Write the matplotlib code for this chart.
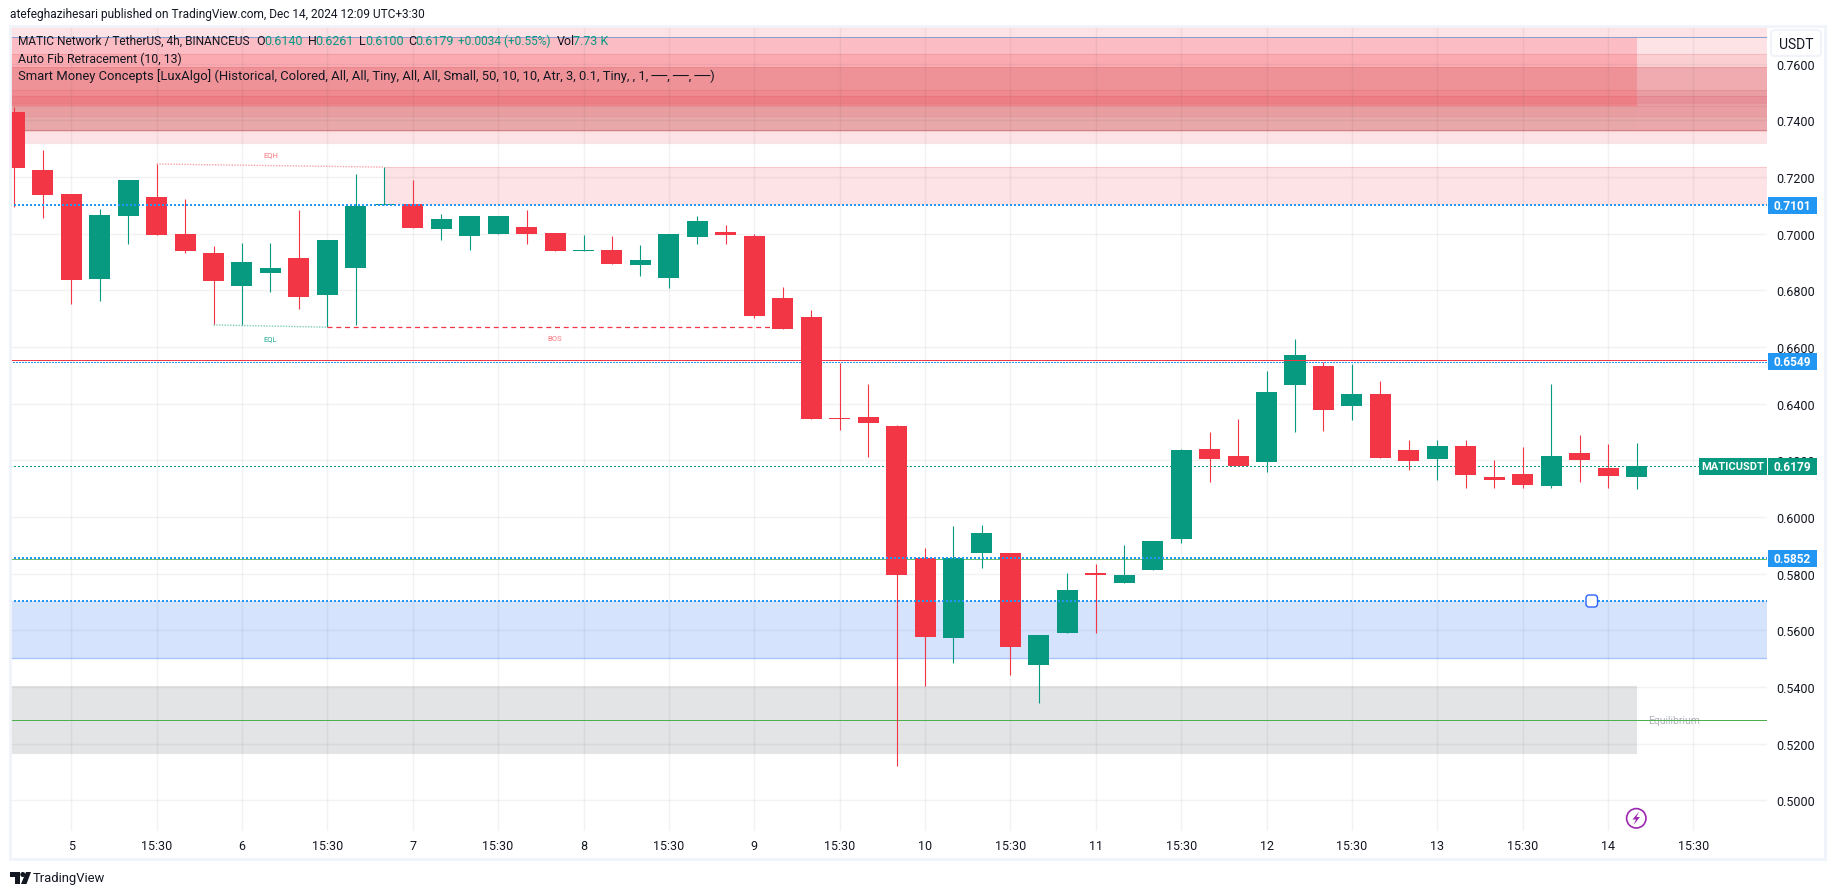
import matplotlib
matplotlib.use("Agg")
import matplotlib.pyplot as plt
from matplotlib.patches import Rectangle, FancyBboxPatch, Circle, Polygon

plt.rcParams['font.family'] = ['Roboto', 'DejaVu Sans']

# candles
opens = [.7430, .7224, .7140, .6841, .7064, .7130, .6999, .6932, .6817, .6862,
         .6914, .6785, .6880, .7102, .7105, .7018, .6993, .7000, .7024, .7002,
         .6940, .6942, .6890, .6845, .6990, .7006, .6992, .6773, .6706, .6349,
         .6353, .6321, .5855, .5573, .5873, .5873, .5478, .5591, .5802, .5767,
         .5813, .5922, .6240, .6215, .6194, .6466, .6533, .6392, .6434, .6237,
         .6205, .6251, .6141, .6152, .6109, .6226, .6173, .6140]
closes = [.7233, .7138, .6838, .7066, .7190, .6997, .6940, .6834, .6900, .6879,
          .6778, .6978, .7098, .7105, .7021, .7052, .7062, .7062, .7000, .6940,
          .6942, .6893, .6907, .6999, .7045, .6995, .6711, .6665, .6346, .6347,
          .6332, .5795, .5576, .5855, .5944, .5541, .5583, .5742, .5795, .5795,
          .5915, .6237, .6205, .6180, .6441, .6572, .6379, .6434, .6208, .6198,
          .6251, .6148, .6131, .6113, .6215, .6201, .6145, .6179]
highs = [.7448, .7295, .7140, .7087, .7190, .7246, .7123, .6957, .6967, .6967,
         .7084, .6978, .7211, .7235, .7190, .7070, .7062, .7062, .7084, .7002,
         .6995, .6992, .6960, .6999, .7062, .7031, .6999, .6812, .6731, .6544,
         .6469, .6325, .5891, .5968, .5972, .5873, .5583, .5802, .5834, .5901,
         .5915, .6240, .6300, .6346, .6515, .6628, .6547, .6540, .6480, .6272,
         .6272, .6272, .6201, .6247, .6469, .6289, .6258, .6261]
lows = [.7093, .7057, .6753, .6764, .6964, .6997, .6932, .6678, .6678, .6795,
        .6735, .6670, .6678, .7102, .7021, .6979, .6944, .7000, .6964, .6940,
        .6940, .6893, .6852, .6810, .6964, .6964, .6704, .6665, .6346, .6307,
        .6212, .5121, .5403, .5485, .5820, .5442, .5343, .5591, .5591, .5767,
        .5813, .5908, .6124, .6180, .6159, .6300, .6304, .6342, .6208, .6166,
        .6131, .6102, .6102, .6102, .6102, .6124, .6102, .6100]

y_ticks = [.50, .52, .54, .56, .58, .60, .62, .64, .66, .68, .70, .72, .74, .76]
x_ticks = [2, 5, 8, 11, 14, 17, 20, 23, 26, 29, 32, 35, 38, 41, 44, 47, 50, 53, 56, 59]
x_labels = ['5', '15:30', '6', '15:30', '7', '15:30', '8', '15:30', '9', '15:30',
            '10', '15:30', '11', '15:30', '12', '15:30', '13', '15:30', '14', '15:30']

# stacked supply zones at the top, edges from high to low
band_edges = [.7733, .7693, .7634, .7587, .7506, .7485, .7463, .7452, .7417, .7367, .7362, .7321]
band_left = ['#fde3e5', '#fbbcc4', '#fbaab0', '#ef9297', '#ee8a90', '#ee7e86',
             '#ee848a', '#e89ea1', '#e8a8aa', '#d98a90', '#fde3e5']
band_right = ['#fde3e5', '#fde3e5', '#fbcfd2', '#efabb0', '#e89ea3', '#e8909a',
              '#e89ea3', '#e89ea3', '#eaa8ac', '#d98a90', '#fde3e5']

last_bar = 57
price = 0.6179
ob_top, ob_bottom = .7234, .7101
blue_top, blue_bottom = .5703, .5503
grey_top, grey_bottom = .5403, .5163
fib_top = .7693
fib_red = .6553
fib_red_dots = .65475
fib_green = .5850
equilibrium = .5282
blue_levels = [.7101, .5854, .5703]
eqh = ([5, 13], [.7246, .7235])
eql = ([7, 11], [.6678, .6670])
bos = ([11, 27], [.6670, .6670])

RED = '#f23645'
GREEN = '#089981'
BLUE = '#2196f3'
TEXT = '#131722'

fig = plt.figure(figsize=(18.35, 8.95), dpi=100, facecolor='white')
ax = fig.add_axes([10 / 1835, 1 - 832 / 895, 1757 / 1835, 805 / 895])
ax.set_xlim((10 - 14.3) / 28.46, (1767 - 14.3) / 28.46)
ax.set_ylim(0.5 + (801.3 - 832) / 2833, 0.5 + (801.3 - 27) / 2833)

for s in ax.spines.values():
    s.set_visible(False)
ax.set_axisbelow('line')
ax.grid(True, color='#2a2e39', alpha=0.06, lw=1.0)
ax.set_yticks(y_ticks, [f'{v:.4f}' for v in y_ticks])
ax.set_xticks(x_ticks, x_labels)
ax.yaxis.tick_right()
ax.tick_params(axis='both', length=0, labelsize=9, labelcolor=TEXT)
ax.tick_params(axis='y', pad=6.5)
ax.tick_params(axis='x', pad=6)

x0, x1 = ax.get_xlim()

# zones
for i in range(len(band_left)):
    lo, hi = band_edges[i + 1], band_edges[i]
    ax.fill_between([x0, last_bar], lo, hi, color=band_left[i], lw=0, zorder=1)
    ax.fill_between([last_bar, x1], lo, hi, color=band_right[i], lw=0, zorder=1)
ax.hlines(band_edges[2:], x0, x1, color='#c9505c', alpha=0.15, lw=0.8, zorder=1.2)
ax.fill_between([13, x1], ob_bottom, ob_top, color='#fde3e5', lw=0, zorder=1)
ax.hlines(ob_top, 13, x1, color='#f7c6cb', lw=0.8, zorder=1.2)
ax.fill_between([x0, x1], blue_bottom, blue_top, color='#d5e3fd', lw=0, zorder=1)
ax.hlines(blue_bottom, x0, x1, color='#a9c5fb', lw=1.0, zorder=1.2)
ax.fill_between([x0, last_bar], grey_bottom, grey_top, color='#e3e4e6', lw=0, zorder=1)

# fib and price lines, behind the candles
ax.axhline(equilibrium, color='#4caf50', lw=0.72, antialiased=False, zorder=1.6)
ax.axhline(fib_green, color='#6abf6e', lw=0.72, antialiased=False, zorder=1.6)
ax.axhline(price, color=GREEN, lw=0.72, ls=(0, (1.4, 2.4)), antialiased=False, zorder=1.6)

# candles
for i in range(len(opens)):
    col = GREEN if closes[i] >= opens[i] else RED
    ax.vlines(i, lows[i], highs[i], color=col, lw=0.8, zorder=3)
    ax.bar(i, abs(closes[i] - opens[i]), bottom=min(opens[i], closes[i]), width=0.738,
           color=col, lw=0, zorder=3.1)

# lines on top of the candles
ax.axhline(fib_top, color='#8a9fd0', lw=0.72, antialiased=False, zorder=4)
ax.axhline(fib_red_dots, color=BLUE, lw=0.72, ls=(0, (1.4, 2.0)), antialiased=False, zorder=2)
ax.axhline(fib_red, color=RED, lw=0.72, antialiased=False, zorder=4)
for lev in blue_levels:
    ax.axhline(lev, color=BLUE, lw=1.44, ls=(0, (1, 1.33)), antialiased=False, zorder=4)

# structure marks
ax.plot(*eqh, color='#f7a1a8', lw=1.0, ls=(0, (1, 1)), zorder=3.5)
ax.plot(*eql, color='#7fcdbb', lw=1.0, ls=(0, (1, 1)), zorder=3.5)
ax.plot(*bos, color=RED, lw=0.9, ls=(0, (4, 3)), zorder=3.5)
ax.text(9.0, .7279, 'EQH', color='#f7777f', fontsize=5.5, ha='center', va='center')
ax.text(9.0, .6632, 'EQL', color='#22ab94', fontsize=5.5, ha='center', va='center')
ax.text(19.0, .6632, 'BOS', color='#f7777f', fontsize=5.5, ha='center', va='center')
ax.text(57.4, equilibrium, 'Equilibrium', color='#b2b5be', fontsize=7.5, va='center', zorder=1.5)

# everything around the pane, in pixels of the picture
ov = fig.add_axes([0, 0, 1, 1], facecolor='none')
ov.set_xlim(0, 1835)
ov.set_ylim(895, 0)
ov.axis('off')

ov.add_patch(Rectangle((9.5, 26.5), 1815, 833, fc='none', ec='#f0f3fa', lw=2))
ov.text(10, 14.5, 'atefeghazihesari published on TradingView.com, Dec 14, 2024 12:09 UTC+3:30',
        color=TEXT, fontsize=8.6, va='center')

legend_first = [('MATIC Network / TetherUS, 4h, BINANCEUS', 18, TEXT, 8.6),
                ('O', 256.6, TEXT, 9), ('0.6140', 264, GREEN, 9),
                ('H', 307.6, TEXT, 9), ('0.6261', 315, GREEN, 9),
                ('L', 358.7, TEXT, 9), ('0.6100', 365, GREEN, 9),
                ('C', 408, TEXT, 9), ('0.6179', 415.5, GREEN, 9),
                ('+0.0034 (+0.55%)', 457.6, GREEN, 8.6),
                ('Vol', 556.6, TEXT, 9), ('7.73 K', 573, GREEN, 9)]
for s, x, c, fs in legend_first:
    ov.text(x, 41.7, s, color=c, fontsize=fs, va='center')
ov.text(18, 59, 'Auto Fib Retracement (10, 13)', color=TEXT, fontsize=8.9, va='center')
ov.text(18, 76, 'Smart Money Concepts [LuxAlgo] (Historical, Colored, All, All, Tiny, All, All, '
        'Small, 50, 10, 10, Atr, 3, 0.1, Tiny, , 1, ──, ──, ──)', color=TEXT, fontsize=9.4, va='center')

ov.add_patch(FancyBboxPatch((1773, 33), 46, 22, boxstyle='round,pad=2,rounding_size=4',
                            fc='white', ec='#f0f3fa', lw=1.5))
ov.text(1796, 44.5, 'USDT', color=TEXT, fontsize=10, ha='center', va='center')

for txt, yc in [('0.7101', 206.5), ('0.6549', 362.5), ('0.5852', 559.5)]:
    ov.add_patch(Rectangle((1768, yc - 8.5), 49, 17, fc=BLUE, ec='none'))
    ov.text(1792.5, yc, txt, color='white', fontsize=8.6, fontweight='bold', ha='center', va='center')
ov.add_patch(Rectangle((1699, 459), 68, 17, fc=GREEN, ec='none'))
ov.add_patch(Rectangle((1768, 459), 49, 17, fc=GREEN, ec='none'))
ov.text(1733, 467.5, 'MATICUSDT', color='white', fontsize=8, fontweight='bold', ha='center', va='center')
ov.text(1792.5, 467.5, '0.6179', color='white', fontsize=8.6, fontweight='bold', ha='center', va='center')

# handle on the drawn level
ov.add_patch(FancyBboxPatch((1587.5, 597.5), 8.5, 9, boxstyle='round,pad=1.5,rounding_size=3',
                            fc='white', ec='#2962ff', lw=1))

# lightning mark
ov.add_patch(Circle((1636.3, 819.3), 9.7, fc='white', ec='#9c27b0', lw=1.2, zorder=5))
ov.add_patch(Polygon([(1639, 812.5), (1632.5, 820.5), (1636, 820.5), (1633.5, 826),
                      (1640, 818), (1636.5, 818)], fc='#9c27b0', ec='none', zorder=6))

# TradingView logo
ov.add_patch(Polygon([(10, 873), (20, 873), (20, 885), (15, 885), (15, 878), (10, 878)], fc=TEXT, ec='none'))
ov.add_patch(Circle((22.8, 875.5), 2.5, fc=TEXT, ec='none'))
ov.add_patch(Polygon([(26, 873), (31, 873), (26.5, 885), (21, 885)], fc=TEXT, ec='none'))
ov.text(33, 879, 'TradingView', color=TEXT, fontsize=9.4, va='center')

fig.savefig('out.png', dpi=100)
